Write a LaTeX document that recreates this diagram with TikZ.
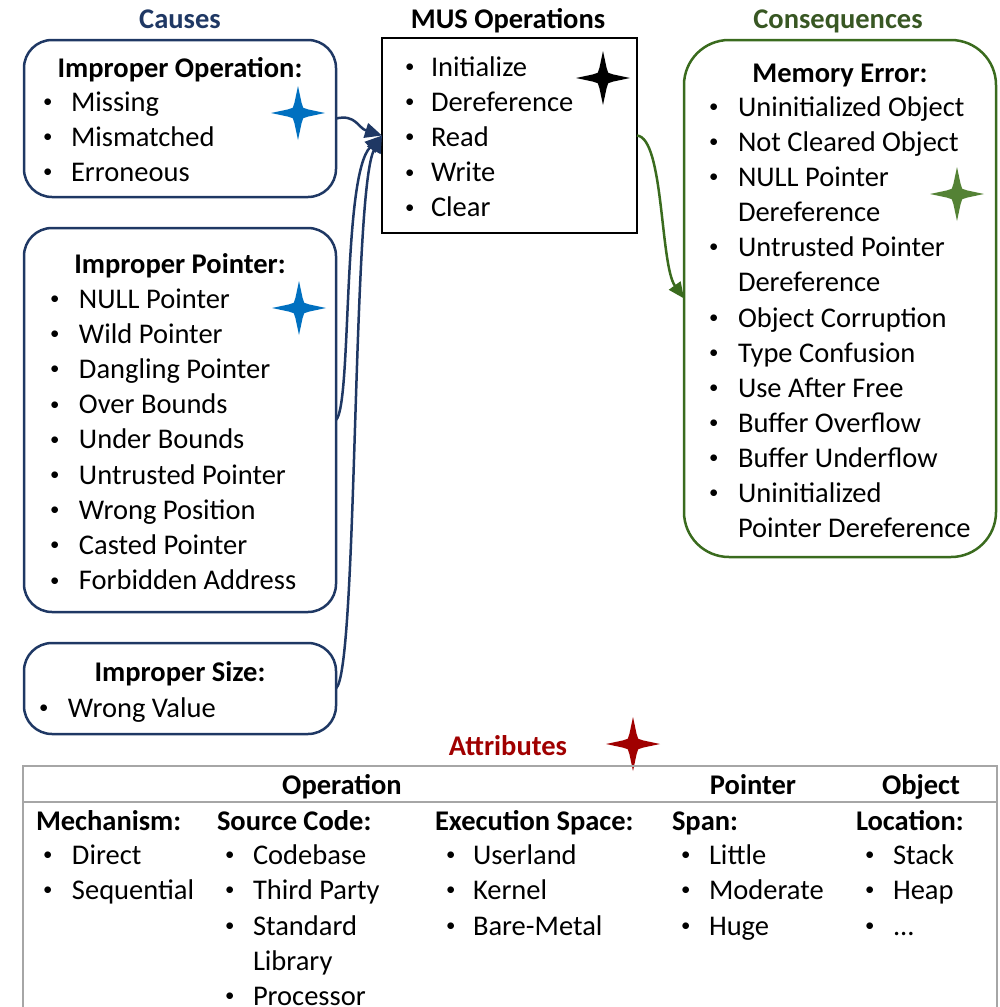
\documentclass[tikz,border=0pt]{standalone}
\usepackage{fontspec}
\usepackage{graphicx}
\setmainfont{Carlito}
\usetikzlibrary{arrows.meta}
\definecolor{causeblue}{HTML}{1F3864}
\definecolor{starblue}{HTML}{0070C0}
\definecolor{consgreen}{HTML}{385723}
\definecolor{consline}{HTML}{3A6B1E}
\definecolor{stargreen}{HTML}{548235}
\definecolor{attrred}{HTML}{A00000}
\definecolor{tablegray}{HTML}{A6A6A6}

% four-pointed star: x, y, colour
\newcommand\sparkle[3]{%
  \fill[#3, shift={(#1,#2)}] (27,0) -- (10,3.6) -- (5.2,5.2) -- (3.6,10) -- (0,27)
    -- (-3.6,10) -- (-5.2,5.2) -- (-10,3.6) -- (-27,0)
    -- (-10,-3.6) -- (-5.2,-5.2) -- (-3.6,-10) -- (0,-27)
    -- (3.6,-10) -- (5.2,-5.2) -- (10,-3.6) -- cycle;}
% bulleted entry
\newcommand\bt[2][24pt]{\makebox[#1][l]{\hspace{-1pt}\raisebox{3.5pt}{\scalebox{0.66}{•}}}#2}

\begin{document}
\begin{tikzpicture}[x=1pt, y=-1pt,
  font=\fontsize{28.5}{35}\selectfont,
  every node/.style={inner sep=0pt, outer sep=0pt},
  item/.style={anchor=base west},
  head/.style={anchor=base, font=\fontsize{28.5}{35}\selectfont\bfseries},
  causebox/.style={draw=causeblue, line width=2.5pt, rounded corners=28pt, minimum width=312pt},
  causearrow/.style={draw=causeblue, line width=2.5pt, -{Triangle[length=17pt,width=15pt]}},
  consarrow/.style={draw=consline, line width=2.5pt, -{Triangle[length=16pt,width=14pt]}},
]
\useasboundingbox (0,0) rectangle (1000,1007);

% ---- column headings
\node[head, text=causeblue] (hcauses) at (180,28) {Causes};
\node[head] (hmus) at (508,28) {MUS Operations};
\node[head, text=consgreen] (hcons) at (838,28) {Consequences};

% ---- causes
\node[causebox, minimum height=157pt] (opbox) at (180,118.5) {};
\node[head] (opttl) at (180,77) {Improper Operation:};
\foreach \t [count=\i from 0] in {Missing, Mismatched, Erroneous}
  \node[item] (op\i) at (44,111+35.2*\i) {\bt[27pt]{\t}};

\node[causebox, minimum height=384pt] (ptrbox) at (180,420) {};
\node[head] (ptrttl) at (180,273) {Improper Pointer:};
\foreach \t [count=\i from 0] in {NULL Pointer, Wild Pointer, Dangling Pointer,
    Over Bounds, Under Bounds, Untrusted Pointer, Wrong Position,
    Casted Pointer, Forbidden Address}
  \node[item] (ptr\i) at (51,308+35.2*\i) {\bt[28pt]{\t}};

\node[causebox, minimum height=91pt] (sizebox) at (180,688.5) {};
\node[head] (sizettl) at (180,681) {Improper Size:};
\node[item] (size0) at (40,717) {\bt[28pt]{Wrong Value}};

% ---- MUS operations
\node[draw, line width=2.5pt, minimum width=255pt, minimum height=195pt] (mus) at (509.5,135.5) {};
\foreach \t [count=\i from 0] in {Initialize, Dereference, Read, Write, Clear}
  \node[item] (mus\i) at (406,76+35.2*\i) {\bt[25pt]{\t}};

% ---- consequences
\node[draw=consline, line width=2.5pt, rounded corners=45pt,
      minimum width=312pt, minimum height=517pt] (cons) at (840,298.5) {};
\node[head] (consttl) at (840,82) {Memory Error:};
\node[item] (c0)  at (710,116) {\bt[28pt]{Uninitialized Object}};
\node[item] (c1)  at (710,151) {\bt[28pt]{Not Cleared Object}};
\node[item] (c2)  at (710,186) {\bt[28pt]{NULL Pointer}};
\node[item] (c3)  at (738,221) {Dereference};
\node[item] (c4)  at (710,256) {\bt[28pt]{Untrusted Pointer}};
\node[item] (c5)  at (738,291) {Dereference};
\node[item] (c6)  at (710,327) {\bt[28pt]{Object Corruption}};
\node[item] (c7)  at (710,362) {\bt[28pt]{Type Confusion}};
\node[item] (c8)  at (710,397) {\bt[28pt]{Use After Free}};
\node[item] (c9)  at (710,432) {\bt[28pt]{Buffer Overflow}};
\node[item] (c10) at (710,467) {\bt[28pt]{Buffer Underflow}};
\node[item] (c11) at (710,502) {\bt[28pt]{Uninitialized}};
\node[item] (c12) at (738,537) {Pointer Dereference};

% ---- connectors
\draw[causearrow] (opbox.east) .. controls (356,114) and (358,128) .. (mus.west);
\draw[causearrow] (ptrbox.east) .. controls (352,405) and (342,175) .. (mus.west);
\draw[causearrow] (sizebox.east) .. controls (358,670) and (352,190) .. (mus.west);
\draw[consarrow] (mus.east) .. controls (664,138) and (660,265) .. (cons.west);

% ---- stars
\sparkle{298}{113}{starblue}
\sparkle{299}{308}{starblue}
\sparkle{603}{78}{black}
\sparkle{957}{194}{stargreen}
\sparkle{633}{744}{attrred}

% ---- attributes table
\node[head, text=attrred] (hattr) at (508,755) {Attributes};
\draw[tablegray, line width=2.5pt] (23,1012) -- (23,766) -- (997,766) -- (997,1012);
\draw[tablegray, line width=2.5pt] (23,802) -- (997,802);
\node[head] (gop)  at (342,794) {Operation};
\node[head] (gptr) at (753,794) {Pointer};
\node[head] (gobj) at (921,794) {Object};

\node[item, font=\fontsize{28.5}{35}\selectfont\bfseries] (amech) at (36,830) {Mechanism:};
\node[item, font=\fontsize{28.5}{35}\selectfont\bfseries] (asrc)  at (217,830) {Source Code:};
\node[item, font=\fontsize{28.5}{35}\selectfont\bfseries] (aexec) at (435,830) {Execution Space:};
\node[item, font=\fontsize{28.5}{35}\selectfont\bfseries] (aspan) at (672,830) {Span:};
\node[item, font=\fontsize{28.5}{35}\selectfont\bfseries] (aloc)  at (856,830) {Location:};

\node[item] (mech0) at (44,864) {\bt[28pt]{Direct}};
\node[item] (mech1) at (44,899) {\bt[28pt]{Sequential}};
\node[item] (src0) at (226,864) {\bt[27pt]{Codebase}};
\node[item] (src1) at (226,899) {\bt[27pt]{Third Party}};
\node[item] (src2) at (226,935) {\bt[27pt]{Standard}};
\node[item] (src3) at (253,970) {Library};
\node[item] (src4) at (226,1005) {\bt[27pt]{Processor}};
\node[item] (exec0) at (447,864) {\bt[26pt]{Userland}};
\node[item] (exec1) at (447,899) {\bt[26pt]{Kernel}};
\node[item] (exec2) at (447,935) {\bt[26pt]{Bare-Metal}};
\node[item] (span0) at (682,864) {\bt[27pt]{Little}};
\node[item] (span1) at (682,899) {\bt[27pt]{Moderate}};
\node[item] (span2) at (682,935) {\bt[27pt]{Huge}};
\node[item] (loc0) at (866,864) {\bt[27pt]{Stack}};
\node[item] (loc1) at (866,899) {\bt[27pt]{Heap}};
\node[item] (loc2) at (866,935) {\bt[27pt]{...}};
\end{tikzpicture}
\end{document}
